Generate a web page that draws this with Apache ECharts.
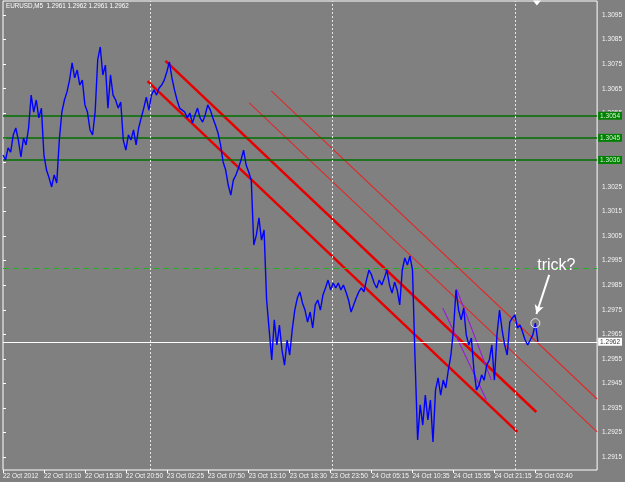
<!DOCTYPE html>
<html><head><meta charset="utf-8">
<script src="https://cdn.jsdelivr.net/npm/echarts@6/dist/echarts.min.js"></script>
<style>html,body{margin:0;padding:0;background:#808080;}#c{width:625px;height:482px;}</style>
</head><body><div id="c"></div>
<script>
// ---- data ----
const titleText = 'EURUSD,M5  1.2961 1.2962 1.2961 1.2962';
// x tick labels; one label every 64 M5 bars (16 samples of 20 min)
const xLabels = ['22 Oct 2012','22 Oct 10:10','22 Oct 15:30','22 Oct 20:50','23 Oct 02:25','23 Oct 07:50','23 Oct 13:10','23 Oct 18:30','23 Oct 23:50','24 Oct 05:15','24 Oct 10:35','24 Oct 15:55','24 Oct 21:15','25 Oct 02:40'];
const SAMPLES_PER_LABEL = 16;
const X_MAX = 232.13;
const yTicks = [1.2915,1.2925,1.2935,1.2945,1.2955,1.2965,1.2975,1.2985,1.2995,1.3005,1.3015,1.3025,1.3035,1.3045,1.3055,1.3065,1.3075,1.3085,1.3095];
const Y_MIN = 1.29098, Y_MAX = 1.31007;
// price samples (every 20 minutes)
const prices = [
1.30380,1.30360,1.30409,1.30392,1.30462,1.30490,1.30441,1.30372,1.30449,1.30421,
1.30490,1.30624,1.30555,1.30604,1.30531,1.30571,1.30380,1.30319,1.30287,1.30250,
1.30299,1.30266,1.30441,1.30555,1.30604,1.30637,1.30685,1.30755,1.30694,1.30726,
1.30665,1.30685,1.30584,1.30555,1.30482,1.30462,1.30555,1.30767,1.30820,1.30706,
1.30746,1.30571,1.30706,1.30624,1.30604,1.30571,1.30596,1.30441,1.30400,1.30462,
1.30441,1.30482,1.30421,1.30490,1.30531,1.30571,1.30616,1.30563,1.30624,1.30645,
1.30624,1.30653,1.30665,1.30685,1.30718,1.30759,1.30694,1.30645,1.30604,1.30571,
1.30563,1.30555,1.30531,1.30551,1.30510,1.30543,1.30571,1.30531,1.30514,1.30543,
1.30584,1.30563,1.30531,1.30502,1.30470,1.30421,1.30352,1.30319,1.30258,1.30217,
1.30278,1.30299,1.30327,1.30360,1.30400,1.30339,1.30311,1.30278,1.30014,1.30055,
1.30124,1.30034,1.30075,1.29790,1.29668,1.29546,1.29709,1.29607,1.29688,1.29586,
1.29525,1.29627,1.29566,1.29668,1.29749,1.29798,1.29823,1.29778,1.29749,1.29700,
1.29741,1.29676,1.29770,1.29790,1.29749,1.29810,1.29839,1.29871,1.29831,1.29859,
1.29839,1.29859,1.29831,1.29851,1.29823,1.29790,1.29741,1.29770,1.29798,1.29823,
1.29839,1.29823,1.29871,1.29912,1.29892,1.29859,1.29839,1.29871,1.29851,1.29880,
1.29912,1.29851,1.29818,1.29863,1.29831,1.29770,1.29912,1.29961,1.29932,1.29969,
1.29912,1.29546,1.29220,1.29363,1.29281,1.29403,1.29302,1.29383,1.29212,1.29424,
1.29473,1.29403,1.29464,1.29432,1.29505,1.29566,1.29668,1.29831,1.29749,1.29709,
1.29757,1.29648,1.29607,1.29635,1.29505,1.29424,1.29444,1.29485,1.29464,1.29525,
1.29546,1.29607,1.29464,1.29648,1.29749,1.29668,1.29607,1.29566,1.29700,1.29717,
1.29729,1.29676,1.29688,1.29660,1.29627,1.29607,1.29627,1.29648,1.29696,1.29620
];
const greenLevels = [1.3054, 1.3045, 1.3036];
const dashedLevel = 1.2992;
const currentPrice = 1.2962;
const daySeparators = [57.5, 128.5, 200.25];
const channelThick = [[[63.49,1.30763],[208.37,1.29334]], [[56.48,1.30681],[200.97,1.29253]]];
const channelThin = [[[96.2,1.30592],[X_MAX,1.29253]], [[104.8,1.30641],[X_MAX,1.29387]]];
const purpleLines = [[[171.8,1.29757],[188.9,1.29383]], [[177.2,1.29835],[190.8,1.29464]]];
const trickIndex = 208;
const trickArrow = [[213.4,1.29892],[208.4,1.29733]];
const trickTextAt = [216.2,1.29928];
const shiftMarkAt = 208.6;

// ---- chart ----
const chart = echarts.init(document.getElementById('c'), null, {renderer:'canvas'});
const FONT = 'Liberation Sans';
const xTickVals = xLabels.map((_, k) => k * SAMPLES_PER_LABEL);
const series = [];
series.push({
  type:'line', data: prices.map((p,i)=>[i,p]), showSymbol:false, symbol:'none',
  lineStyle:{color:'#0000ff', width:1.4}, z:5, silent:true,
  markLine:{
    symbol:'none', silent:true, animation:false, precision:6,
    data:[
      ...greenLevels.map(v => ({yAxis:v, lineStyle:{color:'#007000', width:1.6, type:'solid'},
        label:{show:true, position:'end', distance:1, formatter:v.toFixed(4), color:'#d6f5d6', backgroundColor:'#008000', padding:[1,2,0,2], fontSize:6.5, fontFamily:FONT}})),
      {yAxis:dashedLevel, lineStyle:{color:'#22b022', width:1, type:[6,4]}, label:{show:false}},
      {yAxis:currentPrice, lineStyle:{color:'#ffffff', width:1, type:'solid'},
        label:{show:true, position:'end', distance:1, formatter:currentPrice.toFixed(4), color:'#404040', backgroundColor:'#ffffff', padding:[1,2,0,2], fontSize:6.5, fontFamily:FONT}},
      ...daySeparators.map(v => ({xAxis:v, lineStyle:{color:'#e8e8e8', width:1, type:[2,2]}, label:{show:false}}))
    ]
  }
});
channelThick.forEach(seg => series.push({type:'line', data:seg, symbol:'none', lineStyle:{color:'#e60000', width:2.5}, z:4, silent:true}));
channelThin.forEach(seg => series.push({type:'line', data:seg, symbol:'none', lineStyle:{color:'#e02828', width:1.1}, z:4, silent:true}));
purpleLines.forEach(seg => series.push({type:'line', data:seg, symbol:'none', lineStyle:{color:'#9a1ad8', width:1.1}, z:4, silent:true}));
// trick annotation
series.push({
  type:'scatter', data:[[trickIndex, prices[trickIndex]]], symbol:'circle', symbolSize:9,
  itemStyle:{color:'rgba(0,0,0,0)', borderColor:'#ffffff', borderWidth:1}, z:6, silent:true,
  markLine:{
    silent:true, symbol:['none','arrow'], symbolSize:[7,9], animation:false, precision:6,
    lineStyle:{color:'#ffffff', width:2, type:'solid'}, label:{show:false},
    data:[[{coord:trickArrow[0]},{coord:trickArrow[1]}]]
  },
  markPoint:{
    silent:true, animation:false,
    data:[
      {coord:trickTextAt, symbol:'circle', symbolSize:0,
        label:{show:true, position:'inside', formatter:'trick?', color:'#ffffff', fontSize:16, fontFamily:FONT}},
      {coord:[shiftMarkAt, Y_MAX], symbol:'triangle', symbolRotate:180, symbolSize:[8,5], symbolOffset:[0,2],
        itemStyle:{color:'#ffffff'}, label:{show:false}}
    ]
  }
});

chart.setOption({
  animation:false,
  backgroundColor:'#808080',
  graphic:[{type:'text', left:6, top:3, style:{text:titleText, fill:'#ffffff', font:'6.3px "Liberation Sans"'}}],
  grid:{left:2, right:27, top:1, bottom:12, show:true, borderColor:'#ffffff', borderWidth:1, backgroundColor:'#808080'},
  xAxis:{
    type:'value', min:0, max:X_MAX,
    axisLine:{show:false}, splitLine:{show:false},
    axisTick:{show:true, customValues:xTickVals, length:3, lineStyle:{color:'#ffffff'}},
    axisLabel:{customValues:xTickVals, formatter:v => xLabels[Math.round(v/SAMPLES_PER_LABEL)] || '',
      align:'left', margin:3, color:'#f4f4f4', fontSize:6.5, fontFamily:FONT}
  },
  yAxis:{
    type:'value', position:'right', min:Y_MIN, max:Y_MAX,
    axisLine:{show:false}, splitLine:{show:false},
    axisTick:{show:true, customValues:yTicks, length:3, lineStyle:{color:'#ffffff'}},
    axisLabel:{customValues:yTicks, formatter:v => v.toFixed(4), margin:5, color:'#f4f4f4', fontSize:6.5, fontFamily:FONT}
  },
  series
});
</script></body></html>
